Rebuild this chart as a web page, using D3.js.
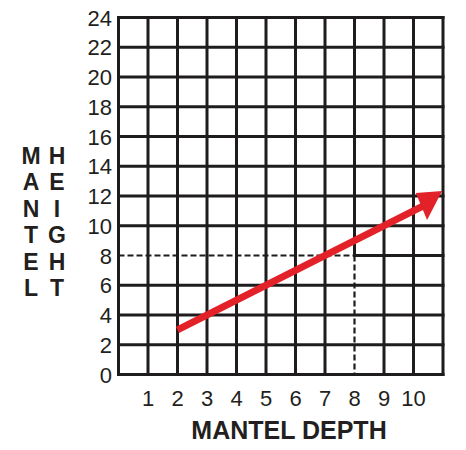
<!DOCTYPE html>
<html>
<head>
<meta charset="utf-8">
<script src="https://cdn.jsdelivr.net/npm/d3@7"></script>
<style>
  html, body { margin: 0; padding: 0; background: #fff; }
  svg { display: block; }
  text { font-family: "Liberation Sans", Arial, Helvetica, sans-serif; fill: #231f20; }
</style>
</head>
<body>
<svg id="chart" width="466" height="450"></svg>
<script>
// ---- data ----
const xDomain = [0, 11];
const yDomain = [0, 24];
const xTickLabels = [1, 2, 3, 4, 5, 6, 7, 8, 9, 10];
const yTickLabels = [0, 2, 4, 6, 8, 10, 12, 14, 16, 18, 20, 22, 24];
const trendX = [2, 10.4];
const trendY = [3, 11.4];
const arrowHeadX = [10.97, 10.08, 10.46];
const arrowHeadY = [12.34, 12.2, 10.39];
const guideX = 8;
const guideY = 8;
const xTitle = "MANTEL DEPTH";
const yTitleLeft = "MANTEL";
const yTitleRight = "HEIGHT";

// ---- drawing ----
const svg = d3.select("#chart");
const x = d3.scaleLinear().domain(xDomain).range([118.5, 443]);
const y = d3.scaleLinear().domain(yDomain).range([374.5, 17.5]);
const ink = "#1e1c1c";

const grid = svg.append("g").attr("stroke", ink).attr("stroke-width", 3).attr("stroke-linecap", "square");

// vertical grid lines
d3.range(xDomain[0], xDomain[1] + 1).forEach(v => {
  const y0 = (v === guideX) ? guideY : yDomain[0];
  grid.append("line")
    .attr("x1", x(v)).attr("x2", x(v))
    .attr("y1", y(y0)).attr("y2", y(yDomain[1]));
});
// horizontal grid lines
d3.range(yDomain[0], yDomain[1] + 1, 2).forEach(v => {
  const x0 = (v === guideY) ? guideX : xDomain[0];
  grid.append("line")
    .attr("x1", x(x0)).attr("x2", x(xDomain[1]))
    .attr("y1", y(v)).attr("y2", y(v));
});

// dashed guides
const guides = svg.append("g").attr("stroke", ink).attr("stroke-width", 2.2).attr("stroke-dasharray", "6,3");
guides.append("line").attr("x1", x(xDomain[0])).attr("x2", x(guideX)).attr("y1", y(guideY)).attr("y2", y(guideY));
guides.append("line").attr("x1", x(guideX)).attr("x2", x(guideX)).attr("y1", y(guideY)).attr("y2", y(yDomain[0]));

// trend arrow
const red = "#e32128";
svg.append("line")
  .attr("x1", x(trendX[0])).attr("y1", y(trendY[0]))
  .attr("x2", x(trendX[1])).attr("y2", y(trendY[1]))
  .attr("stroke", red).attr("stroke-width", 7);
svg.append("polygon")
  .attr("points", arrowHeadX.map((v, i) => `${x(v)},${y(arrowHeadY[i])}`).join(" "))
  .attr("fill", red);

// y tick labels
svg.append("g").selectAll("text").data(yTickLabels).join("text")
  .attr("x", 112).attr("y", d => y(d) + 8)
  .attr("text-anchor", "end")
  .attr("font-size", 22)
  .text(d => d);

// x tick labels
svg.append("g").selectAll("text").data(xTickLabels).join("text")
  .attr("x", d => x(d)).attr("y", 406)
  .attr("text-anchor", "middle")
  .attr("font-size", 22)
  .text(d => d);

// x title
svg.append("text")
  .attr("x", 289).attr("y", 439)
  .attr("text-anchor", "middle")
  .attr("font-size", 25).attr("font-weight", "bold")
  .text(xTitle);

// y title (stacked letters, two columns)
[[yTitleLeft, 31], [yTitleRight, 57]].forEach(([word, cx]) => {
  svg.append("g").selectAll("text").data(word.split("")).join("text")
    .attr("x", cx).attr("y", (d, i) => 163.5 + i * 26.5)
    .attr("text-anchor", "middle")
    .attr("font-size", 23).attr("font-weight", "bold")
    .text(d => d);
});
</script>
</body>
</html>
